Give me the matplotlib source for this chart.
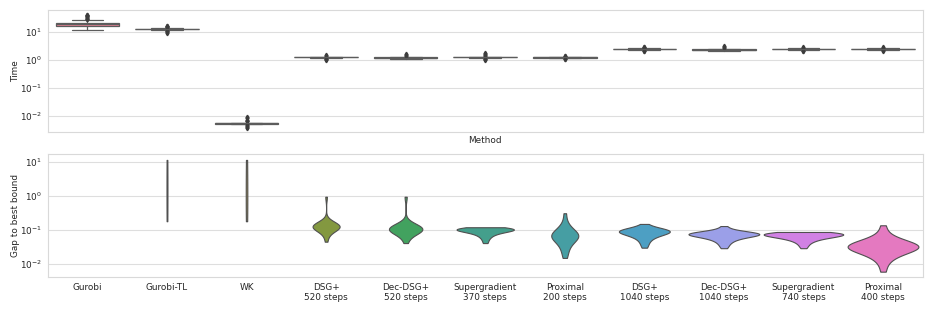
import matplotlib
matplotlib.use("Agg")
import matplotlib.pyplot as plt
import pandas as pd
import seaborn as sns

methods = ["Gurobi", "Gurobi-TL", "WK",
           "DSG+\n520 steps", "Dec-DSG+\n520 steps", "Supergradient\n370 steps", "Proximal\n200 steps",
           "DSG+\n1040 steps", "Dec-DSG+\n1040 steps", "Supergradient\n740 steps", "Proximal\n400 steps"]

# Time (s): box summaries per method
time_q1 = [16.8, 12.3, 0.00535, 1.23, 1.18, 1.23, 1.22, 2.40, 2.27, 2.40, 2.40]
time_med = [19.0, 12.6, 0.00542, 1.25, 1.21, 1.25, 1.24, 2.45, 2.32, 2.45, 2.45]
time_q3 = [21.5, 12.9, 0.0055, 1.27, 1.24, 1.27, 1.26, 2.50, 2.38, 2.50, 2.50]
time_lo = [12.1, 11.6, 0.0051, 1.19, 1.12, 1.19, 1.18, 2.32, 2.15, 2.32, 2.32]
time_hi = [26.8, 13.6, 0.0058, 1.31, 1.31, 1.31, 1.30, 2.58, 2.50, 2.58, 2.58]
time_fliers = [
    [28, 30, 32, 34, 36, 38, 40, 42],
    [9.0, 9.8, 10.5, 11.0, 14.5, 15.2, 16.0, 16.8],
    [0.0036, 0.0040, 0.0043, 0.0046, 0.0064, 0.0068, 0.0075, 0.0083, 0.0092],
    [1.02, 1.08, 1.12, 1.38, 1.45],
    [1.42, 1.5, 1.6],
    [1.0, 1.06, 1.12, 1.38, 1.48, 1.6, 1.75],
    [1.05, 1.1, 1.36, 1.42],
    [2.05, 2.15, 2.7, 2.8, 2.95],
    [2.7, 2.9, 3.1],
    [2.05, 2.15, 2.7, 2.85],
    [2.1, 2.2, 2.72, 2.85],
]

# Gap to best bound samples (Gurobi has no gap)
gap_gurobi_tl = [0.18, 1.5, 11.5]
gap_wk = [0.18, 1.2, 11.5]
gap_dsg_520 = [0.045, 0.065, 0.08, 0.092, 0.1, 0.106, 0.111, 0.115, 0.118, 0.121, 0.123, 0.125, 0.127,
               0.129, 0.131, 0.134, 0.137, 0.141, 0.146, 0.153, 0.163, 0.18, 0.95]
gap_dec_520 = [0.041, 0.058, 0.07, 0.08, 0.087, 0.092, 0.096, 0.099, 0.101, 0.103, 0.105, 0.107, 0.109,
               0.112, 0.115, 0.119, 0.124, 0.131, 0.14, 0.155, 0.95]
gap_sg_370 = [0.041, 0.05, 0.058, 0.064, 0.07, 0.074, 0.078, 0.082, 0.085, 0.088, 0.09, 0.092, 0.094,
              0.096, 0.098, 0.1, 0.101, 0.102, 0.104, 0.105, 0.107, 0.108, 0.11, 0.111, 0.113, 0.114,
              0.116, 0.118, 0.12]
gap_prox_200 = [0.015, 0.02, 0.026, 0.032, 0.038, 0.043, 0.048, 0.052, 0.056, 0.059, 0.062, 0.065, 0.067,
                0.069, 0.072, 0.075, 0.079, 0.084, 0.09, 0.098, 0.11, 0.13, 0.17, 0.31]
gap_dsg_1040 = [0.030, 0.038, 0.045, 0.052, 0.058, 0.063, 0.067, 0.071, 0.074, 0.077, 0.08, 0.082, 0.085,
                0.087, 0.089, 0.091, 0.093, 0.095, 0.097, 0.099, 0.101, 0.104, 0.107, 0.111, 0.12, 0.15]
gap_dec_1040 = [0.029, 0.034, 0.039, 0.043, 0.047, 0.05, 0.053, 0.056, 0.058, 0.06, 0.062, 0.064, 0.066,
                0.067, 0.068, 0.07, 0.071, 0.072, 0.073, 0.074, 0.075, 0.076, 0.077, 0.078, 0.079, 0.08,
                0.081, 0.082, 0.083, 0.085, 0.087, 0.089, 0.092, 0.097, 0.11, 0.13]
gap_sg_740 = [0.029, 0.034, 0.038, 0.042, 0.045, 0.048, 0.05, 0.052, 0.054, 0.056, 0.058, 0.059, 0.061,
              0.062, 0.063, 0.064, 0.065, 0.066, 0.067, 0.068, 0.069, 0.07, 0.071, 0.072, 0.073, 0.074,
              0.075, 0.076, 0.077, 0.078, 0.079, 0.08, 0.081, 0.082, 0.083, 0.084, 0.085, 0.086, 0.087, 0.087]
gap_prox_400 = [0.0059, 0.009, 0.012, 0.014, 0.016, 0.018, 0.019, 0.021, 0.022, 0.023, 0.024, 0.025, 0.026,
                0.027, 0.028, 0.029, 0.03, 0.031, 0.032, 0.033, 0.034, 0.035, 0.036, 0.037, 0.038, 0.04,
                0.041, 0.043, 0.045, 0.048, 0.051, 0.055, 0.06, 0.07, 0.09, 0.137]

gap_lists = [[], gap_gurobi_tl, gap_wk, gap_dsg_520, gap_dec_520, gap_sg_370, gap_prox_200,
             gap_dsg_1040, gap_dec_1040, gap_sg_740, gap_prox_400]
rows = [(m, v) for m, vals in zip(methods, gap_lists) for v in vals]
gap_df = pd.DataFrame(rows, columns=["Method", "Gap"])

# max violin width for each method (fraction of a category slot)
violin_widths = [0, 0.012, 0.02, 0.34, 0.42, 0.72, 0.34, 0.64, 0.89, 1.0, 0.89]

sns.set_style("whitegrid")
plt.rcParams["font.family"] = ["DejaVu Sans"]
plt.rcParams["font.size"] = 6.4
plt.rcParams["axes.edgecolor"] = ".85"
plt.rcParams["grid.color"] = ".87"
plt.rcParams["text.color"] = ".15"
plt.rcParams["axes.labelcolor"] = ".15"
plt.rcParams["xtick.color"] = ".15"
plt.rcParams["ytick.color"] = ".15"

palette = sns.color_palette("husl", len(methods))
line_gray = "#505050"

fig = plt.figure(figsize=(9.34, 3.12), dpi=100)
ax1 = fig.add_axes([0.051, 0.577, 0.937, 0.391])
ax2 = fig.add_axes([0.051, 0.112, 0.937, 0.394])

# Time boxplots
ax1.set_yscale("log")
stats = []
for i in range(len(methods)):
    stats.append(dict(med=time_med[i], q1=time_q1[i], q3=time_q3[i],
                      whislo=time_lo[i], whishi=time_hi[i], fliers=time_fliers[i]))
bp = ax1.bxp(stats, positions=range(len(methods)), widths=0.8, patch_artist=True,
             boxprops=dict(linewidth=0.9, edgecolor="#5c5c5c"),
             whiskerprops=dict(linewidth=0.9, color="#5c5c5c"),
             capprops=dict(linewidth=0.9, color="#5c5c5c"),
             medianprops=dict(linewidth=0.9, color="#5c5c5c"),
             flierprops=dict(marker="d", markersize=2.3, markerfacecolor="#3c3c3c",
                             markeredgecolor="#3c3c3c"))
for patch, c in zip(bp["boxes"], palette):
    patch.set_facecolor(sns.desaturate(c, 0.75))
ax1.set_xlim(-0.5, len(methods) - 0.5)
ax1.set_ylim(2.7e-3, 61)
ax1.set_xticks(range(len(methods)))
ax1.tick_params(axis="x", labelbottom=False, length=0)
ax1.tick_params(axis="y", length=0, pad=4)
ax1.set_xlabel("Method", labelpad=3)
ax1.set_ylabel("Time", labelpad=0)
ax1.grid(axis="x", visible=False)

# Gap violins, one per method so each gets its own width
for i, m in enumerate(methods):
    sub = gap_df[gap_df["Method"] == m]
    if len(sub) == 0:
        continue
    sns.violinplot(data=sub, x="Method", y="Gap", order=methods, color=palette[i],
                   log_scale=True, cut=0, density_norm="width", width=violin_widths[i],
                   inner=None, linewidth=0.8, linecolor=line_gray, ax=ax2)
ax2.set_xlim(-0.5, len(methods) - 0.5)
ax2.set_ylim(4.1e-3, 17)
ax2.tick_params(axis="x", length=0, pad=4)
ax2.tick_params(axis="y", length=0, pad=4)
ax2.set_xlabel("")
ax2.set_ylabel("Gap to best bound", labelpad=0)
ax2.grid(axis="x", visible=False)

fig.savefig("out.png", dpi=100)
